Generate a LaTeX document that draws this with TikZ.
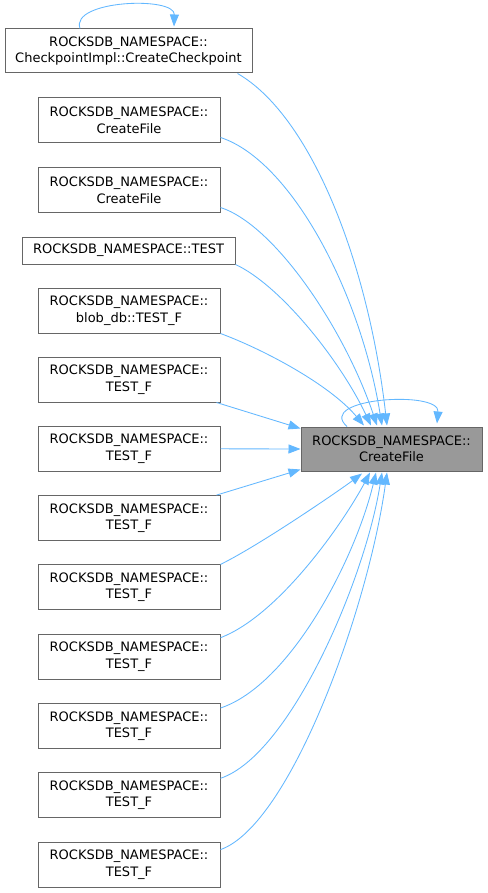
\documentclass[tikz,border=0pt]{standalone}
\usepackage{fontspec}
\setmainfont{DejaVu Sans}
\usetikzlibrary{arrows.meta}
\definecolor{edgeblue}{HTML}{63B8FF}
\definecolor{boxborder}{HTML}{666666}
\definecolor{tgtfill}{HTML}{999999}
\begin{document}
\begin{tikzpicture}[x=1pt,y=-1pt,
  src/.style={draw=boxborder,fill=white,line width=1pt,rectangle,inner sep=0pt,align=center,
    font=\fontsize{13}{16.5}\selectfont,minimum width=182pt,minimum height=45pt},
  tgt/.style={src,fill=tgtfill},
  call/.style={draw=edgeblue,line width=0.85pt,-{Triangle[length=12pt,width=9pt]}}]
\useasboundingbox[fill=white] (0,0) rectangle (487,893);
% nodes
\node[src,minimum width=247pt,minimum height=44pt] (cp) at (128.5,51) {ROCKSDB\_NAMESPACE::\\CheckpointImpl::CreateCheckpoint};
\node[src] (cf1) at (129,120.5) {ROCKSDB\_NAMESPACE::\\CreateFile};
\node[src] (cf2) at (129,190.5) {ROCKSDB\_NAMESPACE::\\CreateFile};
\node[src,minimum width=213pt,minimum height=27pt] (test) at (128.5,250.5) {ROCKSDB\_NAMESPACE::TEST};
\node[src] (blob) at (129,310.5) {ROCKSDB\_NAMESPACE::\\blob\_db::TEST\_F};
\node[src] (tf1) at (129,379.5) {ROCKSDB\_NAMESPACE::\\TEST\_F};
\node[src] (tf2) at (129,448.8) {ROCKSDB\_NAMESPACE::\\TEST\_F};
\node[src] (tf3) at (129,518.1) {ROCKSDB\_NAMESPACE::\\TEST\_F};
\node[src] (tf4) at (129,587.4) {ROCKSDB\_NAMESPACE::\\TEST\_F};
\node[src] (tf5) at (129,656.7) {ROCKSDB\_NAMESPACE::\\TEST\_F};
\node[src] (tf6) at (129,726) {ROCKSDB\_NAMESPACE::\\TEST\_F};
\node[src] (tf7) at (129,795.3) {ROCKSDB\_NAMESPACE::\\TEST\_F};
\node[src] (tf8) at (129,864.6) {ROCKSDB\_NAMESPACE::\\TEST\_F};
\node[tgt,minimum width=181pt,minimum height=44pt] (main) at (391.5,449) {ROCKSDB\_NAMESPACE::\\CreateFile};
% self loops
\draw[call] ([xshift=-48.5pt]cp.north) .. controls (70,0) and (175,-4) .. ([xshift=45.5pt,yshift=2pt]cp.north);
\draw[call] ([xshift=-44.5pt]main.north) .. controls (315,398) and (440,390) .. ([xshift=45.5pt,yshift=3pt]main.north);
% edges from above
\draw[call] ([xshift=-15pt]cp.south east) .. controls (310,115) and (368,260) .. ([xshift=-4.5pt,yshift=1pt]main.north);
\draw[call] ([yshift=6pt]cf1.south east) .. controls (290,160) and (360,290) .. ([xshift=-9.5pt,yshift=1pt]main.north);
\draw[call] ([yshift=6pt]cf2.south east) .. controls (275,225) and (345,330) .. ([xshift=-14.5pt,yshift=1pt]main.north);
\draw[call] (test.south east) .. controls (280,285) and (340,360) .. ([xshift=-20.5pt,yshift=1pt]main.north);
\draw[call] (blob.south east) .. controls (265,350) and (330,385) .. ([xshift=-27.5pt,yshift=1pt]main.north);
% straight edges
\draw[call] ([xshift=-4pt]tf1.south east) -- ([yshift=-2pt]main.north west);
\draw[call] (tf2.east) -- (main.west);
\draw[call] ([xshift=-4pt]tf3.north east) -- ([yshift=2pt]main.south west);
% edges from below
\draw[call] (tf4.north east) .. controls (260,545) and (340,490) .. ([xshift=-29.5pt,yshift=-2pt]main.south);
\draw[call] ([yshift=-4pt]tf5.north east) .. controls (280,615) and (345,520) .. ([xshift=-21.5pt,yshift=-1pt]main.south);
\draw[call] ([yshift=-5pt]tf6.north east) .. controls (290,685) and (355,560) .. ([xshift=-15.5pt,yshift=-1pt]main.south);
\draw[call] ([yshift=-6pt]tf7.north east) .. controls (290,755) and (365,580) .. ([xshift=-9.5pt,yshift=-1pt]main.south);
\draw[call] ([yshift=-8pt]tf8.north east) .. controls (290,825) and (368,610) .. ([xshift=-4.5pt,yshift=-1pt]main.south);
\end{tikzpicture}
\end{document}
